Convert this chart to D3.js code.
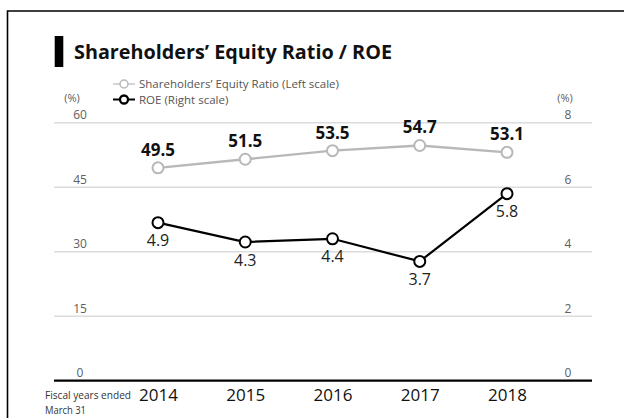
<!DOCTYPE html>
<html>
<head>
<meta charset="utf-8">
<script src="https://cdn.jsdelivr.net/npm/d3@7"></script>
<style>
  html, body { margin: 0; padding: 0; background: #fff; }
  svg { display: block; }
  text { font-family: "Open Sans", "Noto Sans", sans-serif; }
</style>
</head>
<body>
<svg id="chart" width="624" height="418"></svg>
<script>
// Fiscal years and the two series
const years = ["2014", "2015", "2016", "2017", "2018"];
const equityRatio = [49.5, 51.5, 53.5, 54.7, 53.1];   // left scale, %
const roe = [4.9, 4.3, 4.4, 3.7, 5.8];                // right scale, %
const leftTicks = [0, 15, 30, 45, 60];
const rightTicks = [0, 2, 4, 6, 8];
const legendLabels = ["Shareholders\u2019 Equity Ratio (Left scale)", "ROE (Right scale)"];

const svg = d3.select("#chart");
const W = 624, H = 418;

const plot = { left: 54, right: 592, top: 122.7, bottom: 380.7 };

const x = d3.scalePoint().domain(years).range([158, 507]);
const yL = d3.scaleLinear().domain([0, 60]).range([plot.bottom, plot.top]);
const yR = d3.scaleLinear().domain([0, 8]).range([plot.bottom, plot.top]);

// Panel frame (left and top edges)
svg.append("path")
  .attr("d", `M7.5,${H} V11 H${W}`)
  .attr("fill", "none").attr("stroke", "#000").attr("stroke-width", 1.6);

// Title with marker bar
svg.append("rect").attr("x", 54.7).attr("y", 36).attr("width", 8.6).attr("height", 31).attr("fill", "#000");
svg.append("text").attr("x", 74).attr("y", 59)
  .attr("font-size", 19.5).attr("font-weight", 700).attr("fill", "#111")
  .attr("textLength", 318).attr("lengthAdjust", "spacingAndGlyphs")
  .text("Shareholders\u2019 Equity Ratio / ROE");

// Gridlines (baseline drawn separately)
const grid = svg.append("g");
grid.selectAll("line").data(leftTicks.filter(d => d > 0)).join("line")
  .attr("x1", plot.left).attr("x2", plot.right)
  .attr("y1", d => yL(d)).attr("y2", d => yL(d))
  .attr("stroke", "#dcdcdc").attr("stroke-width", 1.5);

const tickStyle = sel => sel.attr("text-anchor", "middle").attr("x", 0).attr("dy", 0)
  .attr("font-size", 12).attr("fill", "#606060")
  .style("font-family", "'Open Sans', sans-serif");

// Left axis labels, sitting just above each gridline
const leftAxis = d3.axisLeft(yL).tickValues(leftTicks).tickSize(0).tickPadding(0);
const gL = svg.append("g").attr("transform", "translate(80,-4)").call(leftAxis);
gL.select(".domain").remove();
gL.selectAll("text").call(tickStyle);

// Right axis labels
const rightAxis = d3.axisRight(yR).tickValues(rightTicks).tickSize(0).tickPadding(0);
const gR = svg.append("g").attr("transform", "translate(568,-4)").call(rightAxis);
gR.select(".domain").remove();
gR.selectAll("text").call(tickStyle);

// Units
svg.append("text").attr("x", 72).attr("y", 102).attr("text-anchor", "middle")
  .attr("font-size", 11).attr("fill", "#606060").text("(%)");
svg.append("text").attr("x", 565).attr("y", 102).attr("text-anchor", "middle")
  .attr("font-size", 11).attr("fill", "#606060").text("(%)");

// Baseline
svg.append("line").attr("x1", plot.left).attr("x2", plot.right)
  .attr("y1", plot.bottom).attr("y2", plot.bottom)
  .attr("stroke", "#000").attr("stroke-width", 2.2);

// X axis labels
const xAxis = d3.axisBottom(x).tickSize(0).tickPadding(0);
const gX = svg.append("g").attr("transform", `translate(0,${plot.bottom})`).call(xAxis);
gX.select(".domain").remove();
gX.selectAll("text").attr("y", 20.5).attr("dy", 0)
  .attr("font-size", 17).attr("fill", "#111")
  .style("font-family", "'Open Sans', sans-serif");

svg.append("text").attr("x", 45).attr("y", 399)
  .attr("font-size", 11).attr("fill", "#333").attr("textLength", 86).attr("lengthAdjust", "spacingAndGlyphs")
  .text("Fiscal years ended");
svg.append("text").attr("x", 45).attr("y", 414)
  .attr("font-size", 11).attr("fill", "#333").attr("textLength", 41).attr("lengthAdjust", "spacingAndGlyphs")
  .text("March 31");

// Series lines
const grey = "#b8b8b8";
const lineL = d3.line().x((d, i) => x(years[i])).y(d => yL(d));
const lineR = d3.line().x((d, i) => x(years[i])).y(d => yR(d));

svg.append("path").datum(equityRatio).attr("d", lineL)
  .attr("fill", "none").attr("stroke", grey).attr("stroke-width", 2.4);
svg.append("path").datum(roe).attr("d", lineR)
  .attr("fill", "none").attr("stroke", "#000").attr("stroke-width", 2.2);

svg.append("g").selectAll("circle").data(equityRatio).join("circle")
  .attr("cx", (d, i) => x(years[i])).attr("cy", d => yL(d)).attr("r", 5.5)
  .attr("fill", "#fff").attr("stroke", grey).attr("stroke-width", 2);
svg.append("g").selectAll("circle").data(roe).join("circle")
  .attr("cx", (d, i) => x(years[i])).attr("cy", d => yR(d)).attr("r", 5.5)
  .attr("fill", "#fff").attr("stroke", "#000").attr("stroke-width", 2);

// Value labels
svg.append("g").selectAll("text").data(equityRatio).join("text")
  .attr("x", (d, i) => x(years[i])).attr("y", d => yL(d) - 12)
  .attr("text-anchor", "middle").attr("font-size", 17).attr("font-weight", 700).attr("fill", "#111")
  .text(d => d.toFixed(1));
svg.append("g").selectAll("text").data(roe).join("text")
  .attr("x", (d, i) => x(years[i])).attr("y", d => yR(d) + 23.5)
  .attr("text-anchor", "middle").attr("font-size", 16).attr("fill", "#222")
  .text(d => d.toFixed(1));

// Legend
const legend = svg.append("g");
const legendRows = [{ y: 84, color: grey, sw: 1.2 }, { y: 99.5, color: "#000", sw: 2 }];
legendRows.forEach((r, i) => {
  legend.append("line").attr("x1", 113).attr("x2", 135).attr("y1", r.y).attr("y2", r.y)
    .attr("stroke", r.color).attr("stroke-width", r.sw);
  legend.append("circle").attr("cx", 124).attr("cy", r.y).attr("r", 4)
    .attr("fill", "#fff").attr("stroke", r.color).attr("stroke-width", r.sw + 0.3);
  legend.append("text").attr("x", 139).attr("y", r.y + 4)
    .attr("font-size", 11.5).attr("fill", "#555")
    .text(legendLabels[i]);
});
</script>
</body>
</html>
